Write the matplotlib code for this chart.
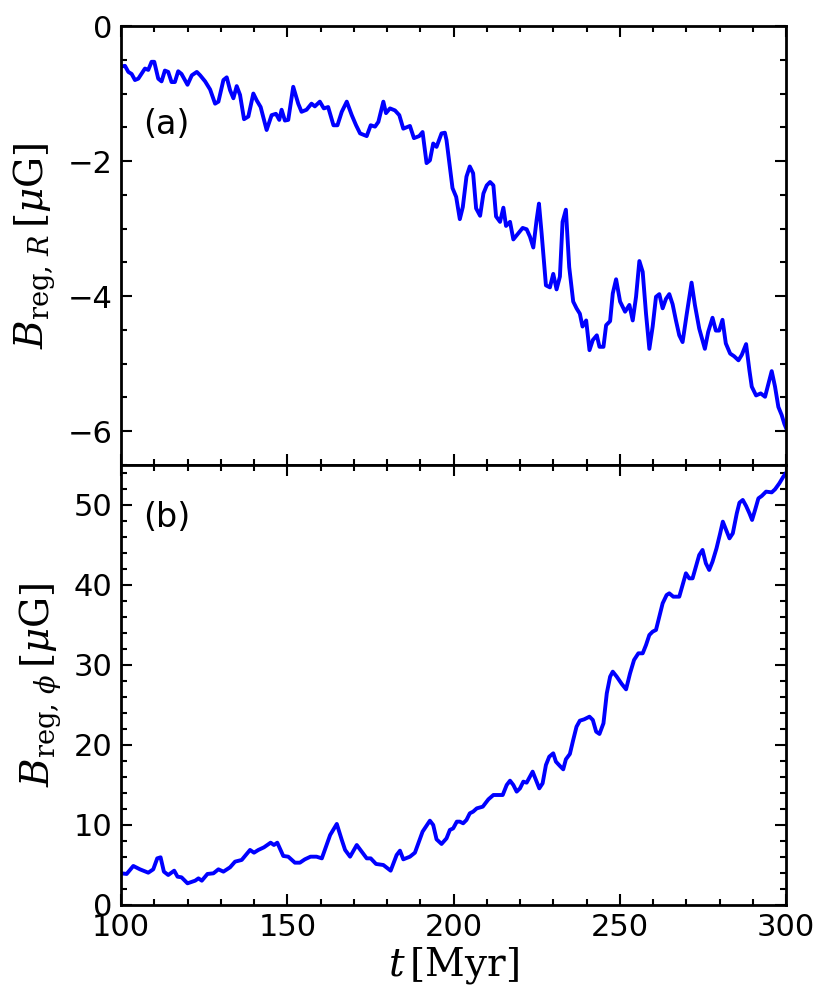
import matplotlib
matplotlib.use("Agg")
import matplotlib.pyplot as plt
from matplotlib.ticker import MultipleLocator

# ---- data ----
t_R = [100, 101.2, 102.2, 103.2, 104.2, 105.2, 107.2, 108.2, 109.2, 110, 111.2, 112.2, 113.2, 114.2,
       115.2, 116.2, 117.2, 118.2, 120, 121.3, 122.8, 123.8, 125.3, 126.8, 128.3, 129.3, 130.8, 131.8,
       132.8, 133.8, 134.8, 135.8, 137, 138.3, 139.8, 140.8, 142, 143.8, 145.3, 146.6, 147.6, 148.3,
       149.3, 150.3, 151.8, 153.3, 154.3, 155.8, 157.3, 158.3, 159.8, 161, 162.3, 163.9, 165.1, 166.4,
       167.9, 169.4, 170.7, 171.9, 173.9, 175.1, 176.4, 177.4, 178.9, 179.7, 180.9, 182.4, 183.7,
       184.9, 186.9, 188.1, 189.7, 190.7, 191.9, 192.9, 193.9, 194.9, 196.4, 197.4, 197.9,
       198.9, 199.7, 200.8, 201.9, 202.8, 203.9, 204.9, 205.9, 206.8, 208, 209, 210, 211, 212, 212.8,
       214, 215, 215.8, 217, 218, 219.5, 220.8, 222, 223, 224, 225, 225.7, 226.5, 227.8, 229, 230, 231,
       232, 232.8, 233.8, 234.8, 236, 237, 238, 238.8, 239.9, 240.9, 241.9, 243.1, 243.9, 245.1, 245.9,
       247.1, 247.9, 248.9, 250.1, 251.6, 252.9, 253.9, 254.9, 255.9, 256.9, 257.9, 258.9, 259.9,
       260.9, 261.9, 262.9, 263.9, 264.9, 265.9, 266.9, 267.9, 268.9, 270.1, 271.6, 272.6, 273.9,
       275.6, 276.6, 277.9, 278.9, 279.9, 280.9, 281.9, 283.2, 284.4, 285.7, 286.7, 288, 289, 289.7,
       291, 292.4, 293.7, 295.7, 296.7, 297.7, 298.7, 299.5, 300]
B_R = [-0.60, -0.59, -0.68, -0.71, -0.80, -0.78, -0.63, -0.65, -0.53, -0.53, -0.78, -0.82, -0.66, -0.68,
       -0.83, -0.83, -0.67, -0.71, -0.87, -0.73, -0.68, -0.73, -0.82, -0.94, -1.15, -1.12, -0.80, -0.76,
       -0.95, -1.07, -0.89, -1.02, -1.38, -1.34, -1.00, -1.10, -1.20, -1.54, -1.32, -1.30, -1.39, -1.24,
       -1.40, -1.39, -0.90, -1.15, -1.27, -1.24, -1.15, -1.19, -1.12, -1.22, -1.20, -1.47, -1.47, -1.27,
       -1.12, -1.32, -1.47, -1.59, -1.63, -1.47, -1.49, -1.42, -1.12, -1.29, -1.22, -1.25, -1.32,
       -1.52, -1.48, -1.66, -1.63, -1.57, -2.03, -1.99, -1.74, -1.79, -1.59, -1.58, -1.69,
       -2.08, -2.40, -2.53, -2.86, -2.68, -2.23, -2.08, -2.18, -2.70, -2.81, -2.48, -2.36, -2.31, -2.36, -2.82,
       -2.90, -2.69, -2.96, -2.90, -3.16, -3.07, -2.99, -3.01, -3.12, -3.28, -2.87, -2.63, -3.07, -3.84, -3.87, -3.67, -3.90,
       -3.71, -2.90, -2.72, -3.57, -4.08, -4.18, -4.26, -4.45, -4.36, -4.80, -4.65, -4.58, -4.75, -4.75, -4.43,
       -4.37, -3.96, -3.75, -4.08, -4.23, -4.13, -4.36, -4.01, -3.48, -3.64, -4.26, -4.78, -4.45,
       -4.01, -3.97, -4.18, -4.04, -3.97, -4.12, -4.36, -4.58, -4.68, -4.28, -3.80, -4.13, -4.48,
       -4.78, -4.53, -4.32, -4.51, -4.51, -4.35, -4.70, -4.85, -4.89, -4.95, -4.87, -4.71, -5.10, -5.34,
       -5.47, -5.44, -5.49, -5.11, -5.34, -5.64, -5.76, -5.89, -5.95]

t_phi = [100, 101.7, 103.7, 105.7, 108.2, 109.7, 110.9, 111.9, 112.9, 114.2, 116, 117, 118.2, 120,
         122.3, 123.3, 124.3, 126, 127.8, 129.3, 130.8, 132.8, 134.3, 136.3, 138.8, 140, 141.3, 143,
         145, 146, 147, 148.8, 150.3, 152.3, 153.8, 155.3, 157, 158.8, 160.4, 162.9, 164.9, 166.4,
         167.4, 168.9, 170.9, 172.4, 173.9, 175.1, 176.7, 178.9, 181.1, 182.9, 183.9, 184.9, 186.9,
         188.4, 190.7, 192.9, 193.9, 194.9, 196.4, 197.9, 198.9, 199.9, 201, 201.9, 202.9, 203.9,
         204.9, 205.9, 207, 208.8, 210.5, 212, 214.8, 216, 217, 218, 219, 220, 221, 222, 223.8, 225,
         225.8, 226.8, 227.8, 228.8, 230, 230.8, 232, 233, 233.8, 235, 236, 237, 238, 239.3, 240.9,
         241.9, 242.9, 243.9, 245.1, 246.1, 247.1, 247.9, 249.1, 250.6, 251.9, 253.1, 254.3, 255.6,
         256.9, 257.9, 258.9, 259.9, 260.9, 261.9, 262.9, 264.1, 264.9, 266.1, 267.9, 268.9, 269.9,
         270.9, 271.9, 272.9, 273.9, 274.9, 275.9, 276.9, 277.9, 279.1, 280.2, 281, 282, 283, 284,
         285.2, 286, 287, 288, 289, 289.8, 290.7, 291.7, 292.7, 294, 295.7, 296.7, 298, 299.2, 300]
B_phi = [3.96, 3.88, 4.88, 4.46, 4.04, 4.46, 5.83, 5.96, 4.17, 3.75, 4.29, 3.54, 3.46, 2.71,
         3.04, 3.33, 3.04, 3.88, 3.96, 4.46, 4.17, 4.71, 5.42, 5.63, 6.88, 6.54, 6.88, 7.21,
         7.79, 7.50, 7.79, 6.13, 6.04, 5.29, 5.29, 5.71, 6.04, 6.04, 5.83, 8.75, 10.13, 8.13,
         6.88, 6.04, 7.50, 6.67, 5.83, 5.83, 5.13, 5.00, 4.29, 6.25, 6.79, 5.71, 6.04,
         6.54, 9.17, 10.54, 10.0, 8.21, 7.63, 8.33, 9.38, 9.58, 10.42, 10.42, 10.21, 10.63,
         11.46, 11.67, 12.08, 12.29, 13.21, 13.75, 13.75, 15.0, 15.54, 15.0, 14.17, 14.58, 15.42, 15.29, 16.67, 15.42,
         14.58, 15.21, 17.5, 18.54, 18.96, 17.92, 17.38, 16.96, 18.21, 18.88, 20.63, 22.29, 23.04, 23.21, 23.54,
         23.13, 21.67, 21.38, 22.71, 26.46, 28.54, 29.17, 28.54, 27.63, 26.96, 28.96, 30.63, 31.46,
         31.46, 32.5, 33.75, 34.17, 34.38, 36.04, 37.71, 38.75, 38.96, 38.54, 38.54, 40.0, 41.46,
         40.83, 40.83, 42.29, 43.75, 44.38, 42.71, 41.88, 42.92, 44.58, 46.46, 47.92, 46.88, 45.83, 46.46,
         48.96, 50.29, 50.63, 49.88, 48.96, 48.13, 49.38, 50.83, 51.13, 51.67, 51.58, 51.96, 52.71, 53.54, 54.0]

xlim = (100, 300)
ylim_R = (-6.5, 0)
ylim_phi = (0, 55)
xticks = [100, 150, 200, 250, 300]
yticks_R = [0, -2, -4, -6]
yticks_phi = [0, 10, 20, 30, 40, 50]
xlabel = r"$t\,[\mathrm{Myr}]$"
ylabel_R = r"$B_{\mathrm{reg},\,R}\,[\mu\mathrm{G}]$"
ylabel_phi = r"$B_{\mathrm{reg},\,\phi}\,[\mu\mathrm{G}]$"
panel_labels = ["(a)", "(b)"]

plt.rcParams['mathtext.fontset'] = 'dejavuserif'
plt.rcParams['font.family'] = ['DejaVu Sans']

fig = plt.figure(figsize=(8.30, 10.07), dpi=100)
ax1 = fig.add_axes([121/830, 1 - 465/1007, 665/830, 439/1007])
ax2 = fig.add_axes([121/830, 1 - 905/1007, 665/830, 440/1007], sharex=ax1)

ax1.plot(t_R, B_R, color='#0000ff', lw=2.8)
ax2.plot(t_phi, B_phi, color='#0000ff', lw=2.8)

for ax in (ax1, ax2):
    ax.set_xlim(*xlim)
    ax.xaxis.set_minor_locator(MultipleLocator(10))
    ax.tick_params(which='both', direction='in', top=True, right=True, labelsize=22, pad=6)
    ax.tick_params(which='major', length=8, width=1.5)
    ax.tick_params(which='minor', length=4, width=1.5)
    for s in ax.spines.values():
        s.set_linewidth(2)

ax1.set_ylim(*ylim_R)
ax1.set_yticks(yticks_R)
ax1.yaxis.set_minor_locator(MultipleLocator(0.5))
ax1.tick_params(labelbottom=False)
ax1.set_ylabel(ylabel_R, fontsize=28, labelpad=8)

ax2.set_ylim(*ylim_phi)
ax2.set_yticks(yticks_phi)
ax2.yaxis.set_minor_locator(MultipleLocator(2))
ax2.set_xticks(xticks)
ax2.set_ylabel(ylabel_phi, fontsize=28, labelpad=8)
ax2.set_xlabel(xlabel, fontsize=28, labelpad=2)

ax1.text(0.033, 0.775, panel_labels[0], transform=ax1.transAxes, fontsize=24, va='center', ha='left')
ax2.text(0.033, 0.88, panel_labels[1], transform=ax2.transAxes, fontsize=24, va='center', ha='left')

fig.savefig("out.png", dpi=100)
